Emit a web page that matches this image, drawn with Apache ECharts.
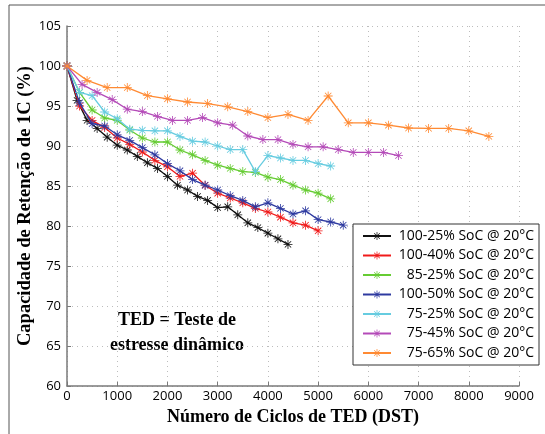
<!DOCTYPE html>
<html>
<head>
<meta charset="utf-8">
<script src="https://cdn.jsdelivr.net/npm/echarts@6/dist/echarts.min.js"></script>
<style>
html,body{margin:0;padding:0;background:#fff;}
#c{width:545px;height:434px;}
</style>
</head>
<body>
<div id="c"></div>
<script>
// ---- data ----
var seriesNames = ['100-25% SoC @ 20°C','100-40% SoC @ 20°C','85-25% SoC @ 20°C','100-50% SoC @ 20°C','75-25% SoC @ 20°C','75-45% SoC @ 20°C','75-65% SoC @ 20°C'];
var xTicks = [0,1000,2000,3000,4000,5000,6000,7000,8000,9000];
var yTicks = [60,65,70,75,80,85,90,95,100,105];

var cycles100_25 = [0,200,400,600,800,1000,1200,1400,1600,1800,2000,2200,2400,2600,2800,3000,3200,3400,3600,3800,4000,4200,4400];
var cap100_25    = [100,95.7,93.2,92.2,91.1,90.1,89.5,88.7,87.9,87.2,86.2,85.1,84.5,83.7,83.2,82.3,82.4,81.4,80.4,79.8,79.1,78.4,77.7];

var cycles100_40 = [0,250,500,750,1000,1250,1500,1750,2000,2250,2500,2750,3000,3250,3500,3750,4000,4250,4500,4750,5000];
var cap100_40    = [100,95.0,93.2,92.3,91.0,90.2,89.25,88.2,87.4,86.2,86.6,85.1,84.1,83.5,82.9,82.2,81.75,81.1,80.4,80.1,79.4];

var cycles85_25 = [0,250,500,750,1000,1250,1500,1750,2000,2250,2500,2750,3000,3250,3500,3750,4000,4250,4500,4750,5000,5250];
var cap85_25    = [100,96.7,94.5,93.5,93.2,92.0,91.0,90.5,90.5,89.5,88.9,88.2,87.6,87.2,86.8,86.7,86.1,85.8,85.1,84.5,84.1,83.4];

var cycles100_50 = [0,250,500,750,1000,1250,1500,1750,2000,2250,2500,2750,3000,3250,3500,3750,4000,4250,4500,4750,5000,5250,5500];
var cap100_50    = [100,95.4,92.8,92.5,91.4,90.7,89.8,88.9,87.8,86.9,85.8,85.1,84.5,83.8,83.2,82.4,82.9,82.2,81.5,81.9,80.8,80.5,80.1];

var cycles75_25 = [0,250,500,750,1000,1250,1500,1750,2000,2250,2500,2750,3000,3250,3500,3750,4000,4250,4500,4750,5000,5250];
var cap75_25    = [100,96.7,96.3,94.25,93.4,92.1,91.96,91.9,91.9,91.2,90.6,90.5,90.0,89.55,89.55,86.8,88.8,88.5,88.2,88.2,87.8,87.5];

var cycles75_45 = [0,300,600,900,1200,1500,1800,2100,2400,2700,3000,3300,3600,3900,4200,4500,4800,5100,5400,5700,6000,6300,6600];
var cap75_45    = [100,97.7,96.7,95.8,94.6,94.3,93.7,93.2,93.2,93.55,92.9,92.6,91.25,90.8,90.8,90.2,89.9,89.9,89.55,89.2,89.2,89.2,88.8];

var cycles75_65 = [0,400,800,1200,1600,2000,2400,2800,3200,3600,4000,4400,4800,5200,5600,6000,6400,6800,7200,7600,8000,8400];
var cap75_65    = [100,98.2,97.3,97.3,96.3,95.9,95.5,95.3,94.9,94.3,93.55,93.95,93.2,96.25,92.9,92.9,92.6,92.25,92.2,92.2,91.9,91.2];

var colors = ['#111111','#f01a1a','#66cc33','#2e3aa0','#66cce0','#b44ab8','#ff8a33'];

function zip(xs, ys){ return xs.map(function(x,i){ return [x, ys[i]]; }); }
var allX = [cycles100_25,cycles100_40,cycles85_25,cycles100_50,cycles75_25,cycles75_45,cycles75_65];
var allY = [cap100_25,cap100_40,cap85_25,cap100_50,cap75_25,cap75_45,cap75_65];

var star = 'path://M-0.9,-10L0.9,-10L0.9,10L-0.9,10Z M-10,-0.9L10,-0.9L10,0.9L-10,0.9Z M-7.7,-6.4L-6.4,-7.7L7.7,6.4L6.4,7.7Z M6.4,-7.7L7.7,-6.4L-6.4,7.7L-7.7,6.4Z';

var series = seriesNames.map(function(n,i){
  return {
    name: n, type: 'line', data: zip(allX[i], allY[i]),
    symbol: star, symbolSize: 9, showSymbol: true,
    lineStyle: {color: colors[i], width: 1.3},
    itemStyle: {color: colors[i], borderWidth: 0},
    z: 2 + i,
    animation: false
  };
});
series.reverse();

var chart = echarts.init(document.getElementById('c'), null, {renderer:'canvas'});
chart.setOption({
  backgroundColor: '#fff',
  animation: false,
  color: colors,
  grid: {left: 67, right: 26, top: 26, bottom: 48, containLabel: false},
  xAxis: {
    type: 'value', min: xTicks[0], max: xTicks[xTicks.length-1], interval: 1000,
    name: 'Número de Ciclos de TED (DST)', nameLocation: 'middle', nameGap: 19,
    nameTextStyle: {fontFamily: 'Liberation Serif', fontWeight: 'bold', fontSize: 18, color: '#000'},
    axisLine: {lineStyle: {color: '#7a7a7a', width: 1.5}},
    axisTick: {inside: true, length: 4, lineStyle: {color: '#7a7a7a'}},
    axisLabel: {fontFamily: 'Open Sans', fontSize: 13, color: '#000', margin: 4,
      formatter: function(v){ return String(v); }},
    splitLine: {show: true, lineStyle: {color: '#bdbdbd', type: [1,4], width: 1}}
  },
  yAxis: {
    type: 'value', min: yTicks[0], max: yTicks[yTicks.length-1], interval: 5,
    name: 'Capacidade de Retenção de 1C (%)', nameLocation: 'middle', nameGap: 32,
    nameMoveOverlap: false,
    nameTextStyle: {fontFamily: 'Liberation Serif', fontWeight: 'bold', fontSize: 18.5, color: '#000'},
    axisLine: {show: true, lineStyle: {color: '#7a7a7a', width: 1.5}},
    axisTick: {show: true, inside: true, length: 4, lineStyle: {color: '#7a7a7a'}},
    axisLabel: {fontFamily: 'Open Sans', fontSize: 13, color: '#000', margin: 6,
      formatter: function(v){ return String(v); }},
    splitLine: {show: true, lineStyle: {color: '#bdbdbd', type: [1,4], width: 1}}
  },
  legend: {
    data: seriesNames,
    orient: 'vertical', left: 353, top: 224,
    itemWidth: 28, itemHeight: 10, itemGap: 5.5,
    padding: [5, 5, 5, 9],
    borderColor: '#333', borderWidth: 1, backgroundColor: '#fff',
    formatter: function(n){ return '{r|' + n + '}'; },
    textStyle: {fontFamily: 'Open Sans', fontSize: 14, color: '#000',
      rich: {r: {width: 138, align: 'right', fontFamily: 'Open Sans', fontSize: 14}}}
  },
  graphic: [
    {type: 'text', x: 177, y: 320, style: {text: 'TED = Teste de', font: 'bold 18px "Liberation Serif"', fill: '#000', textAlign: 'center', textVerticalAlign: 'middle'}},
    {type: 'text', x: 177, y: 345, style: {text: 'estresse dinâmico', font: 'bold 18px "Liberation Serif"', fill: '#000', textAlign: 'center', textVerticalAlign: 'middle'}},
    {type: 'polyline', shape: {points: [[9,434],[9,5],[545,5]]}, style: {stroke: '#555', lineWidth: 1, fill: null}}
  ],
  series: series
});
</script>
</body>
</html>
